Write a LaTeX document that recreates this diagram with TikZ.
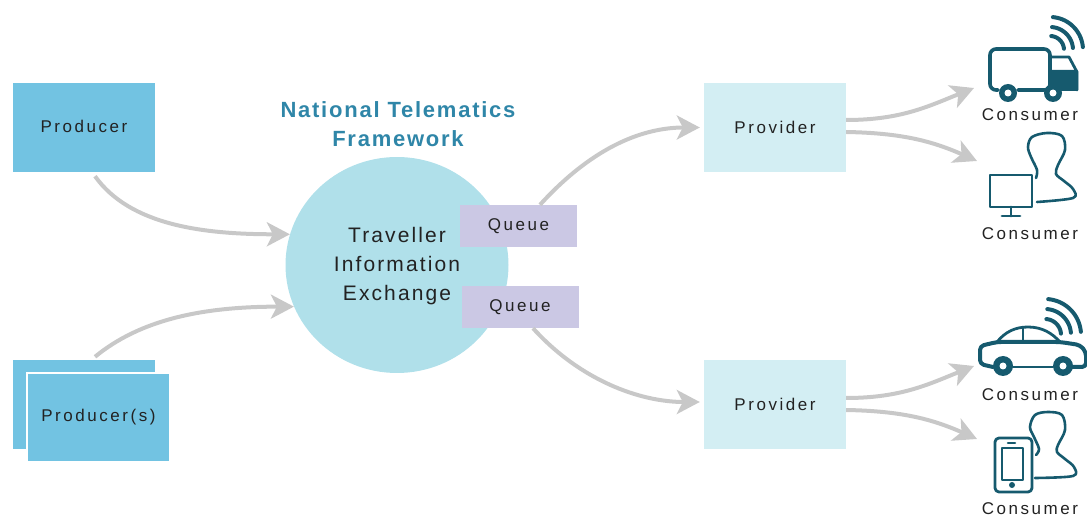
\documentclass[tikz,border=0pt]{standalone}
\usepackage{fontspec}
\setmainfont{Liberation Sans}
\newfontfamily\lblfont[LetterSpace=15]{Liberation Sans}
\newfontfamily\midfont[LetterSpace=10]{Liberation Sans}
\newfontfamily\ttlfont[LetterSpace=8]{Liberation Sans}
\usetikzlibrary{arrows.meta,shapes.geometric}
\definecolor{prodblue}{HTML}{72C3E2}
\definecolor{provblue}{HTML}{D3EEF3}
\definecolor{circblue}{HTML}{B0E0EA}
\definecolor{queuelil}{HTML}{CBC8E4}
\definecolor{arrowgray}{HTML}{C8C8C8}
\definecolor{icon}{HTML}{165A6E}
\definecolor{titleblue}{HTML}{2F86A8}
\definecolor{ink}{HTML}{222222}
\tikzset{
  box/.style={draw=none,inner sep=0pt,text=ink,font=\fontsize{17}{19}\selectfont\lblfont,minimum width=#1},
  prodbox/.style={box=142pt,fill=prodblue,minimum height=89pt},
  provbox/.style={box=142pt,fill=provblue,minimum height=89pt},
  queuebox/.style={box=117pt,fill=queuelil,minimum height=42pt},
  flow/.style={draw=arrowgray,line width=4pt,-{Stealth[length=23pt,width=24pt,inset=6pt]}},
  iconline/.style={draw=icon,line width=2.8pt,line cap=round,line join=round},
  thinicon/.style={draw=icon,line width=2.6pt,line cap=round,line join=round},
  consumerlabel/.style={inner sep=0pt,text=ink,font=\fontsize{17}{19}\selectfont\lblfont},
}
\newcommand{\wavesat}[6]{%
  \foreach \rr in {#3,#4,#5}{
    \draw[iconline,line width=#6pt] plot[domain=5:85,samples=20,smooth] ({#1+\rr*cos(\x)},{#2-\rr*sin(\x)});
  }}
\begin{document}
\begin{tikzpicture}[x=1pt,y=-1pt]
\useasboundingbox (0,0) rectangle (1087,518);
% nodes
\node[prodbox] (producer) at (84,127.5) {};
\node[inner sep=0pt,text=ink,font=\fontsize{17}{19}\selectfont\lblfont] (producertext) at (84,126) {Producer};
\node[prodbox] (producersback) at (84,404.5) {};
\node[prodbox,draw=white,line width=1.5pt,minimum width=143pt] (producers) at (98.5,417.5) {Producer(s)};
\node[ellipse,fill=circblue,minimum width=223pt,minimum height=216pt,inner sep=0pt] (tie) at (397,265) {};
\node[inner sep=0pt,align=center,text=ink,font=\fontsize{21}{29}\selectfont\midfont] (tietext) at (397,266.5) {Traveller\\Information\\Exchange};
\node[queuebox] (queueA) at (518.5,226) {Queue};
\node[queuebox] (queueB) at (520,307) {Queue};
\node[provbox] (providerA) at (775,127.5) {Provider};
\node[provbox] (providerB) at (775,404.5) {Provider};
\node[inner sep=0pt,align=center,text=titleblue,font=\fontsize{22}{29}\selectfont\ttlfont\bfseries] (title) at (398,124) {National Telematics\\Framework};
\node[consumerlabel] (consumerA) at (1030,115) {Consumer};
\node[consumerlabel] (consumerB) at (1030,234) {Consumer};
\node[consumerlabel] (consumerC) at (1030,395) {Consumer};
\node[consumerlabel] (consumerD) at (1030,508.5) {Consumer};
% free connector ends, beside the icons
\coordinate (truckin) at (974,88);
\coordinate (pcin) at (977,161);
\coordinate (carin) at (974,366);
\coordinate (phonein) at (977,439);
% connectors
\draw[flow] ([xshift=11pt,yshift=-4pt]producer.south) .. controls +(35,49) and +(-87,0) .. (tie.164);
\draw[flow] ([xshift=11pt,yshift=3pt]producersback.north) .. controls +(45,-37) and +(-92,0) .. (tie.202);
\draw[flow] ([xshift=21.5pt]queueA.north) .. controls +(50,-55) and +(-60,0) .. ([xshift=-4pt]providerA.west);
\draw[flow] ([xshift=13pt]queueB.south) .. controls +(47,52) and +(-60,0) .. ([xshift=-4pt,yshift=2.5pt]providerB.west);
\draw[flow] ([yshift=7.5pt]providerA.east) .. controls +(55,0) and +(-45,18) .. (truckin);
\draw[flow] ([yshift=-4.5pt]providerA.east) .. controls +(55,1) and +(-45,-20) .. (pcin);
\draw[flow] ([yshift=6.5pt]providerB.east) .. controls +(55,0) and +(-45,18) .. (carin);
\draw[flow] ([yshift=-5.5pt]providerB.east) .. controls +(55,1) and +(-45,-20) .. (phonein);
% truck
\draw[iconline,line width=3.6pt,rounded corners=6pt] (998,90) -- (990,90) -- (990,49) -- (1050,49) -- (1050,90) -- (1018,90);
\fill[icon,rounded corners=1pt] (1050,70) -- (1078,70) -- (1078,91) -- (1050,91) -- cycle;
\draw[iconline] (1050,57) -- (1069,57) -- (1077,72) -- (1077,90);
\fill[icon] (1008,93) circle (9); \fill[white] (1008,93) circle (3.5);
\fill[icon] (1053,93) circle (9); \fill[white] (1053,93) circle (3.5);
\wavesat{1050}{50}{33}{23}{14}{4}
% person and monitor
\draw[thinicon] plot[smooth,tension=0.55] coordinates {(1036,178) (1037,170) (1031,157) (1028,147) (1032,137) (1047,133) (1062,136) (1065,150) (1058,165) (1056,174) (1064,181) (1073,189) (1073,198) (1037,202)};
\draw[iconline] (990,175) rectangle (1032,207);
\draw[iconline] (1011,207) -- (1011,216) (1002,216) -- (1020,216);
% car
\draw[iconline,line width=4pt,rounded corners=4pt] (993,367) -- (980,364) -- (980,346) -- (997,342) -- (1060,342) -- (1080,345) -- (1086,352) -- (1086,367) -- (1072,367);
\draw[iconline] (1013,367) -- (1053,367);
\draw[iconline] (997,342) .. controls (1005,332) and (1015,327) .. (1028,327) .. controls (1042,327) and (1052,333) .. (1060,342);
\draw[iconline] (1023,328) -- (1023,342);
\fill[icon] (1003,366) circle (10); \fill[white] (1003,366) circle (3.5);
\fill[icon] (1063,366) circle (10); \fill[white] (1063,366) circle (3.5);
\wavesat{1045}{335}{36}{26}{16}{4}
% person and phone
\draw[thinicon] plot[smooth,tension=0.55] coordinates {(1036,455) (1039,449) (1034,437) (1030,427) (1035,415) (1048,412) (1062,415) (1065,430) (1058,445) (1057,452) (1065,459) (1074,467) (1073,476) (1035,478)};
\draw[iconline,rounded corners=4pt] (995,438) rectangle (1032,492);
\draw[thinicon] (1002,448) rectangle (1023,480);
\draw[thinicon] (1008,443) -- (1015,443);
\fill[icon] (1012,485) circle (3);
\end{tikzpicture}
\end{document}
